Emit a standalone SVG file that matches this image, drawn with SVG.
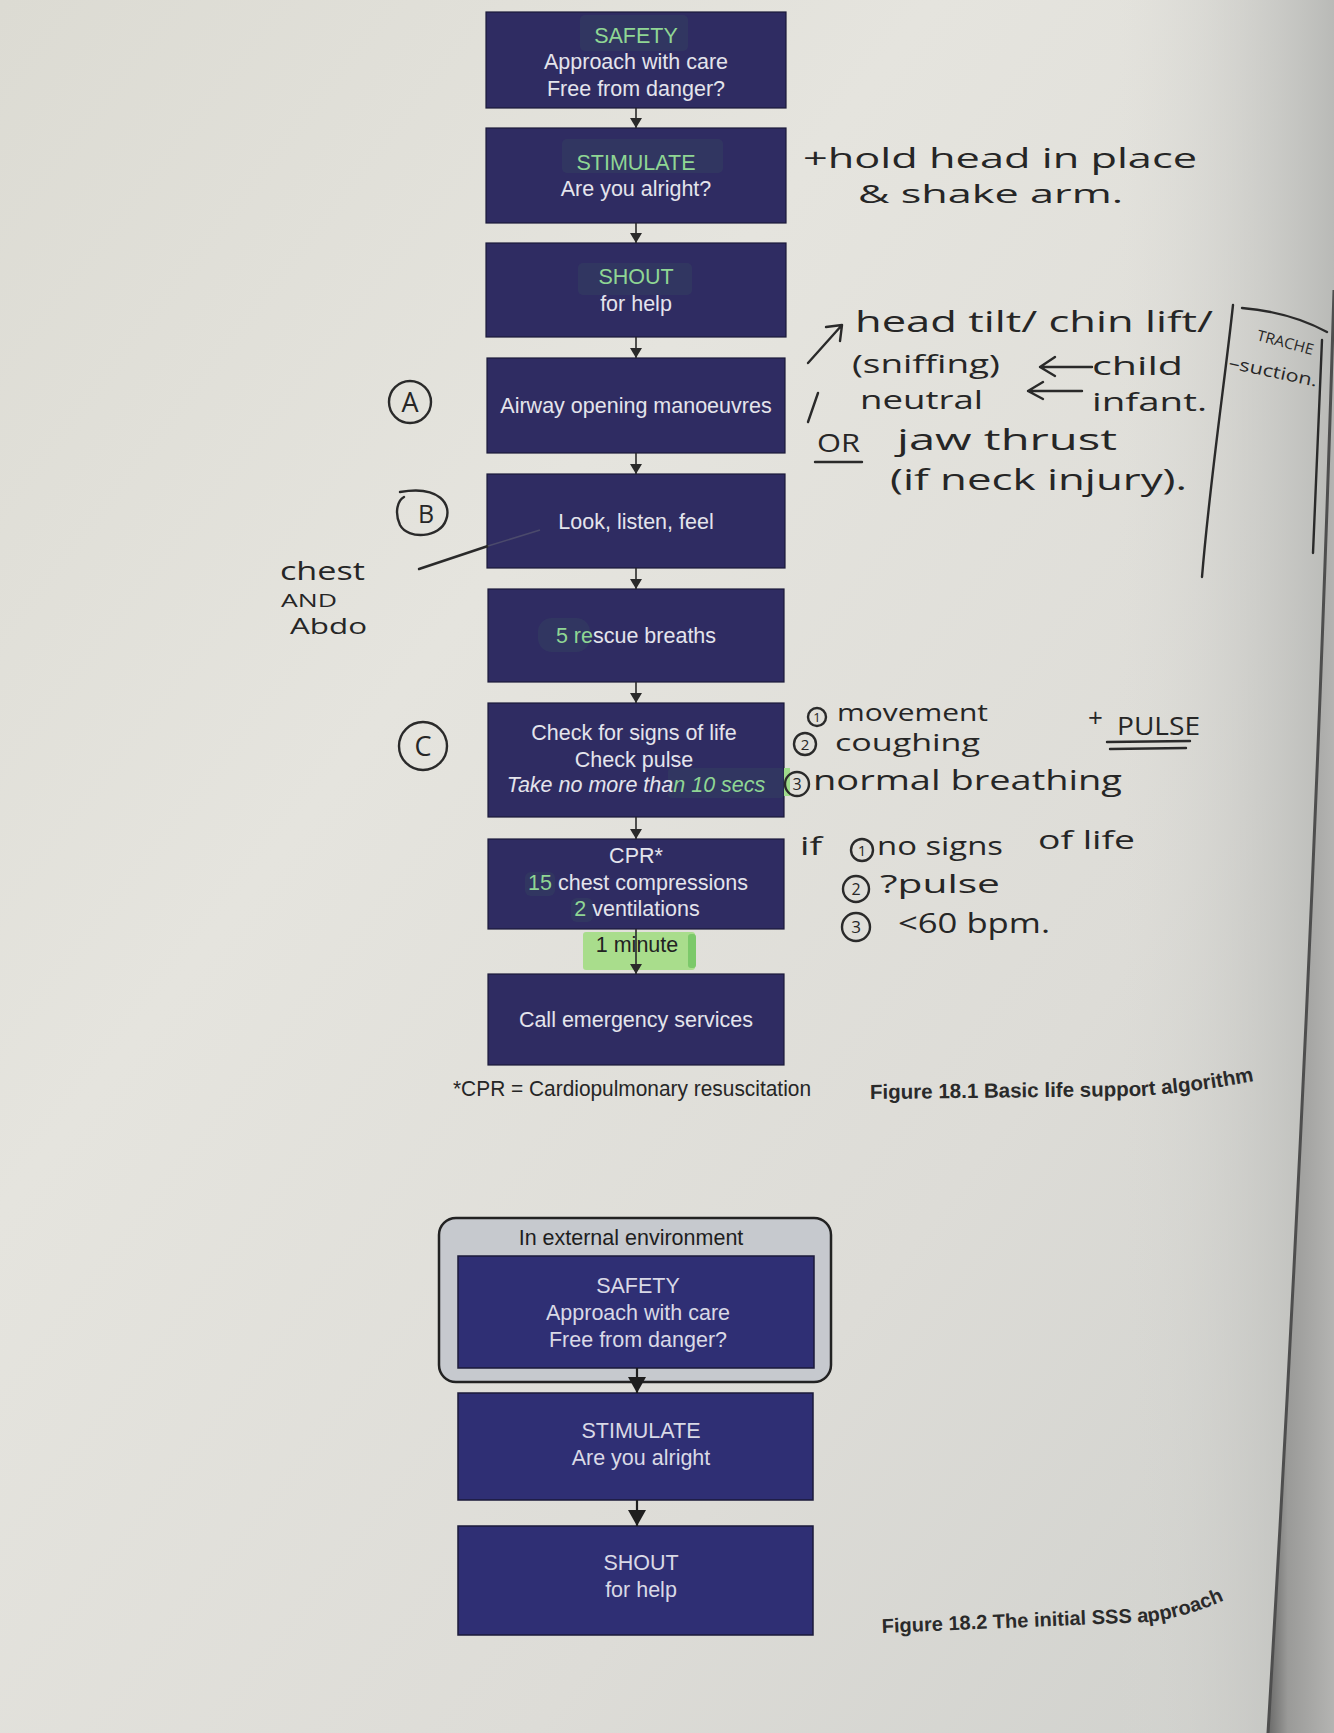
<svg xmlns="http://www.w3.org/2000/svg" width="1334" height="1733" viewBox="0 0 1334 1733">
<defs>
<style>
.box{fill:#2f2c62;stroke:#1b1a3a;stroke-width:1.2}
.box2{fill:#2f2f74;stroke:#1b1a3a;stroke-width:1.5}
.bt{font-family:"Liberation Sans",Arial,sans-serif;font-size:21.5px;fill:#e4e4ec;text-anchor:middle}
.bt2{font-family:"Liberation Sans",Arial,sans-serif;font-size:21.5px;fill:#d9d9e6;text-anchor:middle}
.g{fill:#8fd694}
.hl{fill:#3b5260;opacity:0.28}
.conn{stroke:#2a2a2a;stroke-width:1.6;fill:none}
.conn2{stroke:#1e1e1e;stroke-width:2.2;fill:none}
.cap{font-family:"Liberation Sans",Arial,sans-serif;font-weight:bold;fill:#2a2a2a}
.foot{font-family:"Liberation Sans",Arial,sans-serif;font-size:22px;fill:#262626}
.hw{font-family:"Open Sans","DejaVu Sans",sans-serif;fill:#262626}
.ink{fill:none;stroke:#2a2a2a;stroke-width:2.4;stroke-linecap:round;stroke-linejoin:round}
.dig{font-family:"Open Sans","DejaVu Sans",sans-serif;fill:#262626;text-anchor:middle}
</style>
<linearGradient id="paper" x1="0" y1="0" x2="1" y2="1">
<stop offset="0" stop-color="#dcdbd3"/>
<stop offset="0.35" stop-color="#e5e4de"/>
<stop offset="0.7" stop-color="#dddcd7"/>
<stop offset="1" stop-color="#cfd0cc"/>
</linearGradient>
<linearGradient id="curl" x1="0" y1="0" x2="1" y2="0">
<stop offset="0" stop-color="#d8d8d4" stop-opacity="0"/>
<stop offset="1" stop-color="#b9bab7" stop-opacity="1"/>
</linearGradient>
<linearGradient id="edge" x1="0" y1="0" x2="1" y2="0">
<stop offset="0" stop-color="#6a6a69"/>
<stop offset="0.3" stop-color="#9a9a98"/>
<stop offset="1" stop-color="#b4b4b2"/>
</linearGradient>
<marker id="ah" markerUnits="userSpaceOnUse" markerWidth="11" markerHeight="12" refX="10" refY="6" orient="auto">
<path d="M0,0 L10,6 L0,12 Z" fill="#2a2a2a"/>
</marker>
<marker id="ah2" markerUnits="userSpaceOnUse" markerWidth="17" markerHeight="18" refX="16" refY="9" orient="auto">
<path d="M0,0 L16,9 L0,18 Z" fill="#1e1e1e"/>
</marker>
<path id="cap1" d="M870,1099 L1140,1096 Q1200,1092 1264,1079"/>
<path id="cap2" d="M882,1633 L1150,1622 Q1192,1616 1236,1595"/>
</defs>

<!-- paper -->
<rect x="0" y="0" width="1334" height="1733" fill="url(#paper)"/>
<rect x="1120" y="0" width="214" height="1733" fill="url(#curl)"/>
<path d="M1334,290 C1322,700 1300,1200 1268,1733 L1334,1733 Z" fill="url(#edge)"/>
<path d="M1334,290 C1322,700 1300,1200 1268,1733" fill="none" stroke="#4e4e4e" stroke-width="3"/>

<!-- Figure 18.1 nodes -->
<g id="n-safety">
<rect class="box" x="486" y="12" width="300" height="96"/>
<rect class="hl" x="580" y="15" width="108" height="36" rx="5"/>
<text class="bt" x="636" y="43"><tspan class="g">SAFETY</tspan></text>
<text class="bt" x="636" y="69">Approach with care</text>
<text class="bt" x="636" y="96">Free from danger?</text>
</g>
<g id="n-stimulate">
<rect class="box" x="486" y="128" width="300" height="95"/>
<rect class="hl" x="562" y="139" width="161" height="34" rx="5"/>
<text class="bt" x="636" y="170"><tspan class="g">STIMULATE</tspan></text>
<text class="bt" x="636" y="196">Are you alright?</text>
</g>
<g id="n-shout">
<rect class="box" x="486" y="243" width="300" height="94"/>
<rect class="hl" x="578" y="263" width="114" height="32" rx="5"/>
<text class="bt" x="636" y="284"><tspan class="g">SHOUT</tspan></text>
<text class="bt" x="636" y="311">for help</text>
</g>
<g id="n-airway">
<rect class="box" x="487" y="358" width="298" height="95"/>
<text class="bt" x="636" y="413">Airway opening manoeuvres</text>
</g>
<g id="n-look">
<rect class="box" x="487" y="474" width="298" height="94"/>
<text class="bt" x="636" y="529">Look, listen, feel</text>
</g>
<g id="n-rescue">
<rect class="box" x="488" y="589" width="296" height="93"/>
<rect class="hl" x="538" y="618" width="52" height="34" rx="14"/>
<text class="bt" x="636" y="643"><tspan class="g">5 re</tspan>scue breaths</text>
</g>
<g id="n-check">
<rect class="box" x="488" y="703" width="296" height="114"/>
<rect class="hl" x="668" y="768" width="116" height="30" rx="4"/>
<rect x="784" y="768" width="6" height="28" fill="#9edb8a"/>
<text class="bt" x="634" y="740">Check for signs of life</text>
<text class="bt" x="634" y="767">Check pulse</text>
<text class="bt" x="636" y="792" font-style="italic">Take no more tha<tspan class="g">n 10 secs</tspan></text>
</g>
<g id="n-cpr">
<rect class="box" x="488" y="839" width="296" height="90"/>
<rect class="hl" x="525" y="872" width="30" height="24" rx="6"/>
<rect class="hl" x="571" y="898" width="22" height="24" rx="6"/>
<text class="bt" x="636" y="863">CPR*</text>
<text class="bt" x="638" y="890"><tspan class="g">15</tspan> chest compressions</text>
<text class="bt" x="637" y="916"><tspan class="g">2</tspan> ventilations</text>
</g>
<g id="n-call">
<rect class="box" x="488" y="974" width="296" height="91"/>
<text class="bt" x="636" y="1027">Call emergency services</text>
</g>

<rect x="583" y="932" width="112" height="38" rx="3" fill="#a9dd8c"/>
<rect x="688" y="934" width="8" height="34" rx="3" fill="#7cc96a"/>
<text x="637" y="952" font-family="Liberation Sans, Arial, sans-serif" font-size="21.5" fill="#222" text-anchor="middle">1 minute</text>

<text class="foot" x="453" y="1096" textLength="358" lengthAdjust="spacingAndGlyphs">*CPR = Cardiopulmonary resuscitation</text>
<text class="cap" font-size="20.5"><textPath href="#cap1">Figure 18.1  Basic life support algorithm</textPath></text>

<!-- Figure 18.2 -->
<g id="n-external">
<rect x="439" y="1218" width="392" height="164" rx="17" fill="#c6c9ce" stroke="#222" stroke-width="2.5"/>
<text x="631" y="1245" font-family="Liberation Sans, Arial, sans-serif" font-size="21.5" fill="#1e1e1e" text-anchor="middle">In external environment</text>
</g>
<g id="n2-safety">
<rect class="box2" x="458" y="1256" width="356" height="112"/>
<text class="bt2" x="638" y="1293">SAFETY</text>
<text class="bt2" x="638" y="1320">Approach with care</text>
<text class="bt2" x="638" y="1347">Free from danger?</text>
</g>
<g id="n2-stimulate">
<rect class="box2" x="458" y="1393" width="355" height="107"/>
<text class="bt2" x="641" y="1438">STIMULATE</text>
<text class="bt2" x="641" y="1465">Are you alright</text>
</g>
<g id="n2-shout">
<rect class="box2" x="458" y="1526" width="355" height="109"/>
<text class="bt2" x="641" y="1570">SHOUT</text>
<text class="bt2" x="641" y="1597">for help</text>
</g>
<text class="cap" font-size="20"><textPath href="#cap2">Figure 18.2  The initial SSS approach</textPath></text>

<!-- connectors -->
<g id="connectors">
<line class="conn" x1="636" y1="108" x2="636" y2="128" marker-end="url(#ah)"/>
<line class="conn" x1="636" y1="223" x2="636" y2="243" marker-end="url(#ah)"/>
<line class="conn" x1="636" y1="337" x2="636" y2="358" marker-end="url(#ah)"/>
<line class="conn" x1="636" y1="453" x2="636" y2="474" marker-end="url(#ah)"/>
<line class="conn" x1="636" y1="568" x2="636" y2="589" marker-end="url(#ah)"/>
<line class="conn" x1="636" y1="682" x2="636" y2="703" marker-end="url(#ah)"/>
<line class="conn" x1="636" y1="817" x2="636" y2="839" marker-end="url(#ah)"/>
<line class="conn" x1="636" y1="929" x2="636" y2="974" marker-end="url(#ah)"/>
<line class="conn2" x1="637" y1="1368" x2="637" y2="1393" marker-end="url(#ah2)"/>
<line class="conn2" x1="637" y1="1500" x2="637" y2="1526" marker-end="url(#ah2)"/>
</g>

<!-- handwritten annotations -->
<g id="notes">
<text class="hw" x="803" y="168" font-size="28" textLength="394" lengthAdjust="spacingAndGlyphs">+hold head in place</text>
<text class="hw" x="858" y="203" font-size="26" textLength="265" lengthAdjust="spacingAndGlyphs">&amp; shake arm.</text>

<path class="ink" d="M808,363 L842,325 M826,327 L842,325 L840,341"/>
<path class="ink" d="M808,422 L818,393"/>
<text class="hw" x="855" y="332" font-size="29" textLength="358" lengthAdjust="spacingAndGlyphs">head tilt/ chin lift/</text>
<text class="hw" x="852" y="373" font-size="25" textLength="148" lengthAdjust="spacingAndGlyphs">(sniffing)</text>
<path class="ink" d="M1092,367 L1040,367 M1055,357 L1040,367 L1055,376"/>
<text class="hw" x="1092" y="375" font-size="26" textLength="91" lengthAdjust="spacingAndGlyphs">child</text>
<text class="hw" x="860" y="409" font-size="25" textLength="123" lengthAdjust="spacingAndGlyphs">neutral</text>
<path class="ink" d="M1082,391 L1028,391 M1043,382 L1028,391 L1043,399"/>
<text class="hw" x="1092" y="411" font-size="25" textLength="115" lengthAdjust="spacingAndGlyphs">infant.</text>
<text class="hw" x="817" y="452" font-size="26" textLength="43" lengthAdjust="spacingAndGlyphs">OR</text>
<path class="ink" d="M815,462 L862,462"/>
<text class="hw" x="897" y="450" font-size="30" textLength="220" lengthAdjust="spacingAndGlyphs">jaw thrust</text>
<text class="hw" x="890" y="490" font-size="30" textLength="297" lengthAdjust="spacingAndGlyphs">(if neck injury).</text>

<path class="ink" d="M1233,305 C1225,380 1210,480 1202,577"/>
<path class="ink" d="M1242,308 Q1290,312 1327,332"/>
<path class="ink" d="M1322,340 L1313,553"/>
<text class="hw" x="1256" y="340" font-size="15" textLength="58" lengthAdjust="spacingAndGlyphs" transform="rotate(15 1256 340)">TRACHE</text>
<text class="hw" x="1228" y="368" font-size="17" textLength="90" lengthAdjust="spacingAndGlyphs" transform="rotate(12 1228 368)">–suction.</text>

<circle class="ink" cx="410" cy="402" r="21" stroke-width="2"/>
<text class="dig" x="410" y="412" font-size="27">A</text>
<path class="ink" d="M400,492 C440,485 452,505 446,520 C440,538 408,540 400,525 C394,512 398,500 404,497" stroke-width="2"/>
<text class="dig" x="426" y="523" font-size="25">B</text>
<circle class="ink" cx="423" cy="746" r="24" stroke-width="2"/>
<text class="dig" x="423" y="756" font-size="27">C</text>
<path class="ink" d="M419,569 L488,546" stroke-width="2"/>
<path d="M488,546 L540,530" stroke="#4b4a6c" stroke-width="1.6" fill="none"/>
<text class="hw" x="280" y="580" font-size="25" textLength="85" lengthAdjust="spacingAndGlyphs">chest</text>
<text class="hw" x="281" y="607" font-size="18" textLength="56" lengthAdjust="spacingAndGlyphs">AND</text>
<text class="hw" x="290" y="634" font-size="22" textLength="77" lengthAdjust="spacingAndGlyphs">Abdo</text>

<circle class="ink" cx="817" cy="717" r="9" stroke-width="1.8"/>
<text class="dig" x="817" y="722" font-size="13">1</text>
<text class="hw" x="837" y="721" font-size="24" textLength="151" lengthAdjust="spacingAndGlyphs">movement</text>
<circle class="ink" cx="805" cy="744" r="11" stroke-width="1.8"/>
<text class="dig" x="805" y="750" font-size="15">2</text>
<text class="hw" x="835" y="751" font-size="24" textLength="145" lengthAdjust="spacingAndGlyphs">coughing</text>
<circle class="ink" cx="797" cy="784" r="12" stroke-width="1.8"/>
<text class="dig" x="797" y="790" font-size="16">3</text>
<text class="hw" x="813" y="790" font-size="28" textLength="309" lengthAdjust="spacingAndGlyphs">normal breathing</text>
<text class="hw" x="1088" y="727" font-size="26">+</text>
<text class="hw" x="1117" y="735" font-size="25" textLength="83" lengthAdjust="spacingAndGlyphs">PULSE</text>
<path class="ink" d="M1107,742 L1190,741 M1110,749 L1186,748" stroke-width="2"/>

<text class="hw" x="800" y="855" font-size="26" textLength="22" lengthAdjust="spacingAndGlyphs">if</text>
<circle class="ink" cx="862" cy="850" r="11" stroke-width="1.8"/>
<text class="dig" x="862" y="856" font-size="15">1</text>
<text class="hw" x="877" y="855" font-size="26" textLength="126" lengthAdjust="spacingAndGlyphs">no signs</text>
<text class="hw" x="1038" y="849" font-size="26" textLength="97" lengthAdjust="spacingAndGlyphs">of life</text>
<circle class="ink" cx="856" cy="889" r="13" stroke-width="1.8"/>
<text class="dig" x="856" y="895" font-size="16">2</text>
<text class="hw" x="880" y="893" font-size="26" textLength="120" lengthAdjust="spacingAndGlyphs">?pulse</text>
<circle class="ink" cx="856" cy="927" r="14" stroke-width="1.8"/>
<text class="dig" x="856" y="933" font-size="17">3</text>
<text class="hw" x="898" y="933" font-size="27" textLength="152" lengthAdjust="spacingAndGlyphs">&lt;60 bpm.</text>
</g>
</svg>
